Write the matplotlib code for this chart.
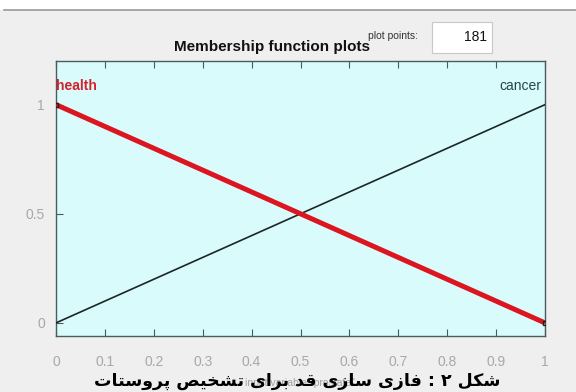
import matplotlib
matplotlib.use("Agg")
import matplotlib.pyplot as plt
from matplotlib.patches import Rectangle
from matplotlib.lines import Line2D

# ---------------- data ----------------
x_range = [0.0, 1.0]
health_x = [0.0, 1.0]
health_y = [1.0, 0.0]
cancer_x = [0.0, 1.0]
cancer_y = [0.0, 1.0]
x_ticks = [0, 0.1, 0.2, 0.3, 0.4, 0.5, 0.6, 0.7, 0.8, 0.9, 1]
x_tick_labels = ["0", "0.1", "0.2", "0.3", "0.4", "0.5", "0.6", "0.7", "0.8", "0.9", "1"]
y_ticks = [0, 0.5, 1]
y_tick_labels = ["0", "0.5", "1"]
mf_names = ["health", "cancer"]
title_text = "Membership function plots"
plot_points_label = "plot points:"
plot_points_value = "181"
xlabel_text = 'input variable "prostate"'
caption_text = "شکل ۲ : فازی سازی قد برای تشخیص پروستات"

# ---------- minimal Arabic/Persian shaping (presentation forms, visual order) ----------
FORMS = {
    "ا": (0xFE8D, 0xFE8E, None, None),
    "ب": (0xFE8F, 0xFE90, 0xFE91, 0xFE92),
    "پ": (0xFB56, 0xFB57, 0xFB58, 0xFB59),
    "ت": (0xFE95, 0xFE96, 0xFE97, 0xFE98),
    "خ": (0xFEA5, 0xFEA6, 0xFEA7, 0xFEA8),
    "د": (0xFEA9, 0xFEAA, None, None),
    "ر": (0xFEAD, 0xFEAE, None, None),
    "ز": (0xFEAF, 0xFEB0, None, None),
    "س": (0xFEB1, 0xFEB2, 0xFEB3, 0xFEB4),
    "ش": (0xFEB5, 0xFEB6, 0xFEB7, 0xFEB8),
    "ص": (0xFEB9, 0xFEBA, 0xFEBB, 0xFEBC),
    "ف": (0xFED1, 0xFED2, 0xFED3, 0xFED4),
    "ق": (0xFED5, 0xFED6, 0xFED7, 0xFED8),
    "ک": (0xFB8E, 0xFB8F, 0xFB90, 0xFB91),
    "ل": (0xFEDD, 0xFEDE, 0xFEDF, 0xFEE0),
    "و": (0xFEED, 0xFEEE, None, None),
    "ی": (0xFBFC, 0xFBFD, 0xFBFE, 0xFBFF),
}


def shape(text):
    out = []
    n = len(text)
    for i, ch in enumerate(text):
        if ch not in FORMS:
            out.append(ch)
            continue
        iso, fin, ini, med = FORMS[ch]
        prev = text[i - 1] if i > 0 else ""
        nxt = text[i + 1] if i + 1 < n else ""
        join_prev = prev in FORMS and FORMS[prev][2] is not None
        join_next = nxt in FORMS and ini is not None
        if join_prev and join_next:
            cp = med
        elif join_prev:
            cp = fin
        elif join_next:
            cp = ini
        else:
            cp = iso
        out.append(chr(cp))
    return "".join(reversed(out))


LAT = ["Liberation Sans", "DejaVu Sans"]

# ---------------- figure ----------------
fig = plt.figure(figsize=(5.76, 3.92), dpi=100)
fig.patch.set_facecolor("#efefef")
W, H = 576.0, 392.0

# white strip at top with gray separator line
fig.patches.append(Rectangle((0, 1 - 10 / H), 1, 10 / H, transform=fig.transFigure,
                             facecolor="white", edgecolor="none", zorder=0))
fig.lines.append(Line2D([4 / W, 1], [1 - 10 / H, 1 - 10 / H], transform=fig.transFigure,
                        color="#9a9a9a", lw=1.2))

ax = fig.add_axes([56 / W, 1 - 336 / H, (545 - 56) / W, (336 - 61) / H])
ax.set_facecolor("#d9fbfb")
ax.set_xlim(x_range[0], x_range[1])
ax.set_ylim(-0.06, 1.2)

ax.plot(cancer_x, cancer_y, color="#1c2626", lw=1.2, zorder=3)
ax.plot(health_x, health_y, color="#dc1620", lw=3.6, zorder=4, solid_capstyle="butt")
ax.plot([health_x[0], health_x[-1]], [health_y[0], health_y[-1]], ls="none", marker="s",
        ms=3.5, mfc="none", mec="#202020", mew=1.0, zorder=5)

ax.text(0.0, 1.085, mf_names[0], color="#d4202a", fontsize=10, fontweight="bold",
        family=LAT, ha="left", va="center")
ax.text(0.993, 1.085, mf_names[1], color="#2a4444", fontsize=10,
        family=LAT, ha="right", va="center")

ax.set_xticks(x_ticks)
ax.set_xticklabels(x_tick_labels)
ax.set_yticks(y_ticks)
ax.set_yticklabels(y_tick_labels)
ax.tick_params(direction="in", length=5, width=0.8, color="#4a5c5c",
               top=True, right=False, labelcolor="#a8a8a8", labelsize=10)
ax.tick_params(axis="x", pad=14)
ax.tick_params(axis="y", pad=8)
for lab in ax.get_xticklabels() + ax.get_yticklabels():
    lab.set_family(LAT)
for sp in ax.spines.values():
    sp.set_color("#4a5c5c")
    sp.set_linewidth(1.0)

# faint x label (partly hidden by caption, as in the original)
fig.text(300 / W, 1 - 383 / H, xlabel_text, color="#a0a0a0", fontsize=7.5,
         family=LAT, ha="center", va="center")

# title & plot points box
fig.text(272 / W, 1 - 47 / H, title_text, fontsize=11, fontweight="bold",
         family=LAT, ha="center", va="center", color="#111111")
fig.text(393 / W, 1 - 36 / H, plot_points_label, fontsize=7.5, color="#333333",
         family=LAT, ha="center", va="center")
fig.patches.append(Rectangle((432 / W, 1 - 53 / H), 60 / W, 31 / H, transform=fig.transFigure,
                             facecolor="white", edgecolor="#c8c8c8", lw=0.8))
fig.text(487 / W, 1 - 37 / H, plot_points_value, fontsize=10, color="#111111",
         family=LAT, ha="right", va="center")

# caption
fig.text(297 / W, 1 - 381 / H, shape(caption_text), fontsize=12.5, fontweight="bold",
         family=["DejaVu Sans"], ha="center", va="center", color="black")

fig.savefig("out.png", dpi=100, facecolor=fig.get_facecolor())
